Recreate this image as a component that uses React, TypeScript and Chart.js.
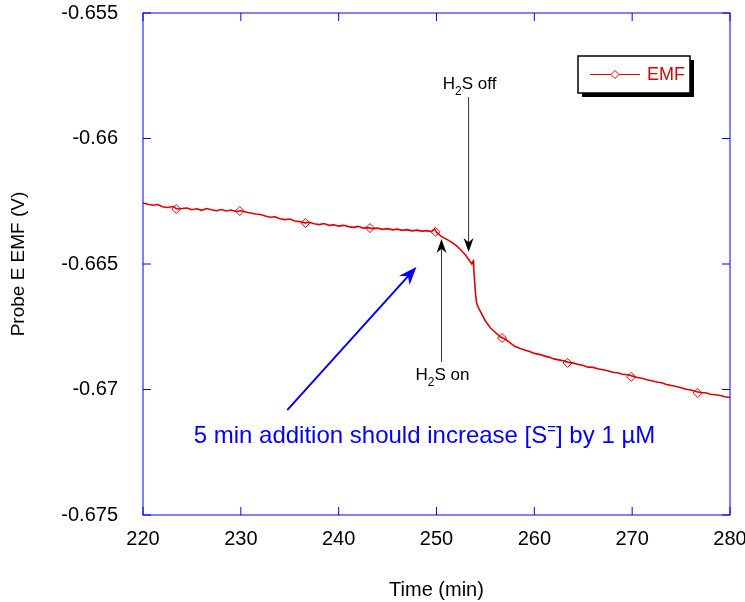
import React, { useEffect, useRef } from 'react';
import { Chart, registerables } from 'chart.js';

Chart.register(...registerables);

// ---- data ----
const timeMin = [
  220.0, 220.5, 221.0, 221.5, 222.0, 222.5, 223.0, 223.5, 224.0, 224.5,
  225.0, 225.5, 226.0, 226.5, 227.0, 227.5, 228.0, 228.5, 229.0, 229.5,
  230.0, 230.5, 231.0, 231.5, 232.0, 232.5, 233.0, 233.5, 234.0, 234.5,
  235.0, 235.5, 236.0, 236.5, 237.0, 237.5, 238.0, 238.5, 239.0, 239.5,
  240.0, 240.5, 241.0, 241.5, 242.0, 242.5, 243.0, 243.5, 244.0, 244.5,
  245.0, 245.5, 246.0, 246.5, 247.0, 247.5, 248.0, 248.5, 249.0, 249.5,
  249.8, 250.0, 250.5, 251.0, 251.5, 252.0, 252.5, 253.0, 253.3, 253.6,
  253.75, 253.8, 253.9, 254.0, 254.1, 254.3, 254.5, 255.0, 255.5, 256.0,
  256.5, 257.0, 257.5, 258.0, 258.5, 259.0, 259.5, 260.0, 260.5, 261.0,
  261.5, 262.0, 262.5, 263.0, 263.5, 264.0, 264.5, 265.0, 265.5, 266.0,
  266.5, 267.0, 267.5, 268.0, 268.5, 269.0, 269.5, 270.0, 270.5, 271.0,
  271.5, 272.0, 272.5, 273.0, 273.5, 274.0, 274.5, 275.0, 275.5, 276.0,
  276.5, 277.0, 277.5, 278.0, 278.5, 279.0, 279.5, 280.0,
];
const emfV = [
  -0.66257, -0.66262, -0.66266, -0.66263, -0.66272, -0.66275, -0.66271, -0.66281, -0.66279, -0.66277,
  -0.66284, -0.6628, -0.66286, -0.66279, -0.66284, -0.66288, -0.66283, -0.66289, -0.66285, -0.66291,
  -0.66288, -0.66293, -0.66297, -0.66301, -0.66303, -0.66309, -0.66314, -0.66312, -0.6632, -0.66323,
  -0.66321, -0.66329, -0.66331, -0.66336, -0.66334, -0.6634, -0.66343, -0.66339, -0.66346, -0.66344,
  -0.66349, -0.66346, -0.66351, -0.66354, -0.6635, -0.66357, -0.66355, -0.66359, -0.66357, -0.66362,
  -0.66359, -0.66364, -0.66361, -0.66366, -0.66363, -0.66368, -0.66365, -0.66369, -0.66367, -0.66371,
  -0.6636, -0.66374, -0.6639, -0.66401, -0.66412, -0.66426, -0.66444, -0.66466, -0.66482, -0.665,
  -0.66489, -0.66514, -0.6657, -0.66624, -0.66656, -0.66676, -0.6669, -0.66727, -0.66754, -0.66772,
  -0.6679, -0.66799, -0.66813, -0.66828, -0.66836, -0.66843, -0.66849, -0.66856, -0.6686, -0.66866,
  -0.66871, -0.66878, -0.66882, -0.66886, -0.66892, -0.66895, -0.669, -0.66904, -0.66911, -0.66912,
  -0.66917, -0.66921, -0.66925, -0.66931, -0.66933, -0.66939, -0.66941, -0.66946, -0.66952, -0.66955,
  -0.66961, -0.66965, -0.6697, -0.66973, -0.6698, -0.66984, -0.66988, -0.66993, -0.66999, -0.67002,
  -0.67008, -0.67012, -0.67013, -0.67019, -0.67021, -0.67024, -0.67029, -0.67032,
];
const markerTime = [223.4, 229.9, 236.6, 243.2, 249.9, 256.7, 263.4, 269.9, 276.7];
const markerEmf = [-0.66281, -0.66289, -0.66337, -0.66357, -0.66372, -0.66795, -0.66894, -0.6695, -0.67014];

const xTicks = [220, 230, 240, 250, 260, 270, 280];
const xTickLabels = ['220', '230', '240', '250', '260', '270', '280'];
const yTicks = [-0.655, -0.66, -0.665, -0.67, -0.675];
const yTickLabels = ['-0.655', '-0.66', '-0.665', '-0.67', '-0.675'];

// annotation anchors (data units)
const offArrow = { t: 253.28, from: -0.65835, to: -0.66452, textY: -0.65803 };
const onArrow = { t: 250.51, from: -0.6689, to: -0.664, textY: -0.66962 };
const blueArrow = { t0: 234.74, v0: -0.67082, t1: 247.95, v1: -0.66512 };
const blueNote = { t: 248.77, v: -0.67213 };

const FONT = '"Liberation Sans", Arial, Helvetica, sans-serif';
const RED = '#e00000';
const BLUE = '#0000ff';

function arrowHead(ctx: CanvasRenderingContext2D, x0: number, y0: number, x1: number, y1: number, len: number, half: number, color: string) {
  const ang = Math.atan2(y1 - y0, x1 - x0);
  const c = Math.cos(ang), s = Math.sin(ang);
  const bx = x1 - len * c, by = y1 - len * s;
  const nx = x1 - len * 0.7 * c, ny = y1 - len * 0.7 * s;
  ctx.beginPath();
  ctx.moveTo(x1, y1);
  ctx.lineTo(bx - half * s, by + half * c);
  ctx.lineTo(nx, ny);
  ctx.lineTo(bx + half * s, by - half * c);
  ctx.closePath();
  ctx.fillStyle = color;
  ctx.fill();
}

function drawH2S(ctx: CanvasRenderingContext2D, cx: number, baseY: number, suffix: string) {
  ctx.fillStyle = '#000';
  ctx.textBaseline = 'alphabetic';
  ctx.textAlign = 'left';
  const big = `17px ${FONT}`;
  const small = `12px ${FONT}`;
  ctx.font = big;
  const wH = ctx.measureText('H').width;
  const wRest = ctx.measureText('S ' + suffix).width;
  ctx.font = small;
  const w2 = ctx.measureText('2').width;
  const total = wH + w2 + wRest;
  let x = cx - total / 2;
  ctx.font = big;
  ctx.fillText('H', x, baseY);
  x += wH;
  ctx.font = small;
  ctx.fillText('2', x, baseY + 6);
  x += w2;
  ctx.font = big;
  ctx.fillText('S ' + suffix, x, baseY);
}

const framePlugin = {
  id: 'frame',
  afterDatasetsDraw(chart: any) {
    const ctx: CanvasRenderingContext2D = chart.ctx;
    const { left, right, top, bottom } = chart.chartArea;
    const xs = chart.scales.x;
    const ys = chart.scales.y;
    ctx.save();
    ctx.strokeStyle = BLUE;
    ctx.lineWidth = 1;
    ctx.strokeRect(left, top, right - left, bottom - top);
    const tl = 8;
    ctx.beginPath();
    xTicks.forEach((t) => {
      const px = xs.getPixelForValue(t);
      ctx.moveTo(px, bottom);
      ctx.lineTo(px, bottom - tl);
      ctx.moveTo(px, top);
      ctx.lineTo(px, top + tl);
    });
    yTicks.forEach((v) => {
      const py = ys.getPixelForValue(v);
      ctx.moveTo(left, py);
      ctx.lineTo(left + tl, py);
      ctx.moveTo(right, py);
      ctx.lineTo(right - tl, py);
    });
    ctx.stroke();

    // black arrows
    ctx.strokeStyle = '#333';
    ctx.lineWidth = 1;
    const ox = xs.getPixelForValue(offArrow.t);
    const oy0 = ys.getPixelForValue(offArrow.from);
    const oy1 = ys.getPixelForValue(offArrow.to);
    ctx.beginPath();
    ctx.moveTo(ox, oy0);
    ctx.lineTo(ox, oy1 - 6);
    ctx.stroke();
    arrowHead(ctx, ox, oy0, ox, oy1, 14, 5, '#000');
    drawH2S(ctx, ox + 1, ys.getPixelForValue(offArrow.textY), 'off');

    const nx = xs.getPixelForValue(onArrow.t);
    const ny0 = ys.getPixelForValue(onArrow.from);
    const ny1 = ys.getPixelForValue(onArrow.to);
    ctx.beginPath();
    ctx.moveTo(nx, ny0);
    ctx.lineTo(nx, ny1 + 6);
    ctx.stroke();
    arrowHead(ctx, nx, ny0, nx, ny1, 14, 5, '#000');
    drawH2S(ctx, nx + 1, ys.getPixelForValue(onArrow.textY), 'on');

    // blue arrow
    const bx0 = xs.getPixelForValue(blueArrow.t0);
    const by0 = ys.getPixelForValue(blueArrow.v0);
    const bx1 = xs.getPixelForValue(blueArrow.t1);
    const by1 = ys.getPixelForValue(blueArrow.v1);
    const ang = Math.atan2(by1 - by0, bx1 - bx0);
    ctx.strokeStyle = BLUE;
    ctx.lineWidth = 2;
    ctx.beginPath();
    ctx.moveTo(bx0, by0);
    ctx.lineTo(bx1 - 10 * Math.cos(ang), by1 - 10 * Math.sin(ang));
    ctx.stroke();
    arrowHead(ctx, bx0, by0, bx1, by1, 18, 7, BLUE);

    // blue note
    const tx = xs.getPixelForValue(blueNote.t);
    const ty = ys.getPixelForValue(blueNote.v);
    const big = `24px ${FONT}`;
    const small = `15px ${FONT}`;
    const p1 = '5 min addition should increase [S';
    const p2 = '=';
    const p3 = '] by 1 \u00b5M';
    ctx.font = big;
    const w1 = ctx.measureText(p1).width;
    const w3 = ctx.measureText(p3).width;
    ctx.font = small;
    const w2 = ctx.measureText(p2).width;
    let x = tx - (w1 + w2 + w3) / 2;
    ctx.fillStyle = BLUE;
    ctx.textAlign = 'left';
    ctx.textBaseline = 'alphabetic';
    ctx.font = big;
    ctx.fillText(p1, x, ty);
    x += w1;
    ctx.font = small;
    ctx.fillText(p2, x, ty - 9);
    x += w2;
    ctx.font = big;
    ctx.fillText(p3, x, ty);

    // legend box
    const lx = right - 152, ly = top + 43, lw = 112, lh = 37;
    ctx.fillStyle = '#000';
    ctx.fillRect(lx + 4, ly + 4, lw, lh);
    ctx.fillStyle = '#fff';
    ctx.fillRect(lx, ly, lw, lh);
    ctx.strokeStyle = '#000';
    ctx.lineWidth = 1.5;
    ctx.strokeRect(lx, ly, lw, lh);
    const my = ly + lh / 2;
    ctx.strokeStyle = RED;
    ctx.lineWidth = 1;
    ctx.beginPath();
    ctx.moveTo(lx + 12, my);
    ctx.lineTo(lx + 62, my);
    ctx.stroke();
    ctx.fillStyle = '#fff';
    ctx.beginPath();
    ctx.moveTo(lx + 37, my - 4);
    ctx.lineTo(lx + 41, my);
    ctx.lineTo(lx + 37, my + 4);
    ctx.lineTo(lx + 33, my);
    ctx.closePath();
    ctx.fill();
    ctx.stroke();
    ctx.fillStyle = RED;
    ctx.font = `18px ${FONT}`;
    ctx.textBaseline = 'middle';
    ctx.fillText('EMF', lx + 69, my + 1);
    ctx.restore();
  },
};

export default function App() {
  const ref = useRef<HTMLCanvasElement | null>(null);
  useEffect(() => {
    if (!ref.current) return;
    const chart = new Chart(ref.current, {
      type: 'scatter',
      data: {
        datasets: [
          {
            label: 'EMF',
            data: timeMin.map((t, i) => ({ x: t, y: emfV[i] })),
            showLine: true,
            borderColor: RED,
            borderWidth: 1.6,
            pointRadius: 0,
            tension: 0,
          },
          {
            label: 'EMF markers',
            data: markerTime.map((t, i) => ({ x: t, y: markerEmf[i] })),
            showLine: false,
            pointStyle: 'rectRot',
            pointRadius: 4.5,
            borderColor: RED,
            borderWidth: 1,
            backgroundColor: 'rgba(255,255,255,0)',
          },
        ],
      },
      options: {
        animation: false,
        responsive: false,
        devicePixelRatio: 1,
        layout: { padding: { top: 13, right: 15, left: 0, bottom: 0 } },
        plugins: { legend: { display: false }, tooltip: { enabled: false } },
        scales: {
          x: {
            type: 'linear',
            min: 220,
            max: 280,
            afterBuildTicks: (s: any) => { s.ticks = xTicks.map((v) => ({ value: v })); },
            afterFit: (s: any) => { s.height = 87; s.paddingLeft = 0; s.paddingRight = 0; },
            grid: { display: false, drawTicks: false },
            border: { display: false },
            ticks: {
              padding: 12,
              color: '#000',
              font: { family: FONT, size: 20 },
              maxRotation: 0,
              callback: (v: any) => { const i = xTicks.indexOf(Number(v)); return i >= 0 ? xTickLabels[i] : ''; },
            },
            title: { display: true, text: 'Time (min)', color: '#000', font: { family: FONT, size: 20 }, padding: { top: 0, bottom: 0 } },
          },
          y: {
            type: 'linear',
            min: -0.675,
            max: -0.655,
            afterBuildTicks: (s: any) => { s.ticks = yTicks.map((v) => ({ value: v })); },
            afterFit: (s: any) => { s.width = 143; s.paddingTop = 0; s.paddingBottom = 0; },
            grid: { display: false, drawTicks: false },
            border: { display: false },
            ticks: {
              padding: 25,
              color: '#000',
              font: { family: FONT, size: 20 },
              callback: (v: any) => { const i = yTicks.findIndex((t) => Math.abs(t - Number(v)) < 1e-9); return i >= 0 ? yTickLabels[i] : ''; },
            },
            title: { display: true, text: 'Probe E EMF (V)', color: '#000', font: { family: FONT, size: 19 }, padding: { top: 7, bottom: 7 } },
          },
        },
      },
      plugins: [framePlugin],
    });
    return () => chart.destroy();
  }, []);
  return (
    <div style={{ position: 'absolute', left: 0, top: 0, width: 745, height: 602, background: '#fff' }}>
      <canvas ref={ref} width={745} height={602} style={{ display: 'block' }} />
    </div>
  );
}
